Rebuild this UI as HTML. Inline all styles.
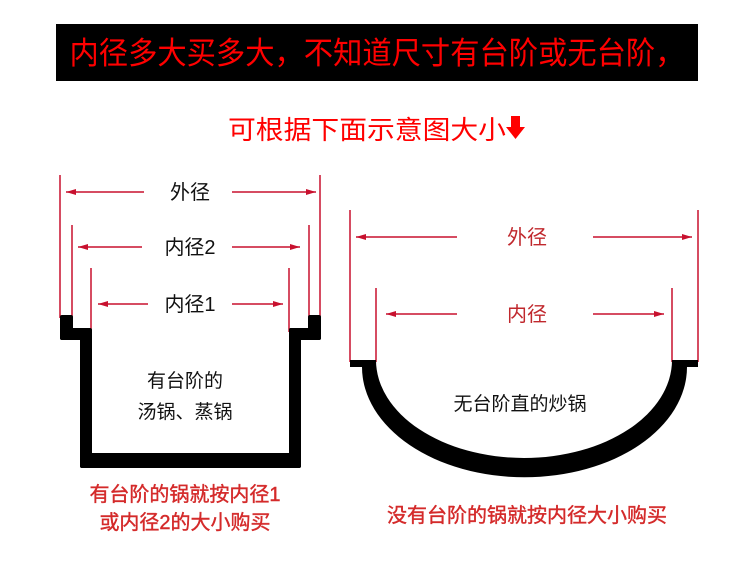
<!DOCTYPE html>
<html><head><meta charset="utf-8"><style>
html,body{margin:0;padding:0;background:#fff;width:750px;height:566px;overflow:hidden}
svg{display:block}
text{font-family:"Liberation Sans","Noto Sans CJK SC",sans-serif}
</style></head><body>
<svg width="750" height="566" viewBox="0 0 750 566">
<defs>
<marker id="a" viewBox="0 0 10 6" refX="10" refY="3" markerWidth="10" markerHeight="6" orient="auto" markerUnits="userSpaceOnUse"><path d="M0,0 L10,3 L0,6 z" fill="#c8102e"/></marker>
</defs>
<rect x="56" y="24" width="642" height="57" fill="#000"/>
<text x="377" y="64" font-size="31" fill="#f00" text-anchor="middle" textLength="615" lengthAdjust="spacingAndGlyphs">内径多大买多大，不知道尺寸有台阶或无台阶，</text>
<text x="228" y="139" font-size="26" fill="#f00" textLength="278" lengthAdjust="spacingAndGlyphs">可根据下面示意图大小</text>
<path d="M511,116 h9 v11 h5 l-9.5,12 l-9.5,-12 h5 z" fill="#f00"/>

<g stroke="#c8102e" stroke-width="1.5">
<line x1="60" y1="175" x2="60" y2="318"/><line x1="72" y1="225" x2="72" y2="318"/><line x1="91" y1="268" x2="91" y2="332"/>
<line x1="320" y1="175" x2="320" y2="318"/><line x1="309" y1="225" x2="309" y2="318"/><line x1="289" y1="268" x2="289" y2="332"/>
<line x1="144" y1="192" x2="66" y2="192" marker-end="url(#a)"/><line x1="232" y1="192" x2="316" y2="192" marker-end="url(#a)"/>
<line x1="142" y1="247" x2="78" y2="247" marker-end="url(#a)"/><line x1="232" y1="247" x2="300" y2="247" marker-end="url(#a)"/>
<line x1="148" y1="304" x2="98" y2="304" marker-end="url(#a)"/><line x1="232" y1="304" x2="283" y2="304" marker-end="url(#a)"/>
<line x1="350" y1="210" x2="350" y2="362"/><line x1="376" y1="288" x2="376" y2="362"/>
<line x1="698" y1="210" x2="698" y2="362"/><line x1="672" y1="288" x2="672" y2="362"/>
<line x1="457" y1="237" x2="356" y2="237" marker-end="url(#a)"/><line x1="593" y1="237" x2="692" y2="237" marker-end="url(#a)"/>
<line x1="457" y1="314" x2="386" y2="314" marker-end="url(#a)"/><line x1="593" y1="314" x2="664" y2="314" marker-end="url(#a)"/>
</g>
<text x="190" y="199" font-size="20" text-anchor="middle" fill="#111">外径</text>
<text x="190" y="254" font-size="20" text-anchor="middle" fill="#111">内径2</text>
<text x="190" y="311" font-size="20" text-anchor="middle" fill="#111">内径1</text>
<text x="527" y="244" font-size="20" text-anchor="middle" fill="#c0282d">外径</text>
<text x="527" y="321" font-size="20" text-anchor="middle" fill="#c0282d">内径</text>

<g fill="#000">
<rect x="60" y="315" width="13" height="25" rx="2"/>
<rect x="60" y="328" width="31" height="12" rx="2"/>
<rect x="80" y="328" width="12" height="140" rx="2"/>
<rect x="80" y="453" width="221" height="15" rx="2"/>
<rect x="289" y="328" width="12" height="140" rx="2"/>
<rect x="289" y="328" width="32" height="12" rx="2"/>
<rect x="308" y="315" width="13" height="25" rx="2"/>
</g>
<text x="185" y="387" font-size="19" text-anchor="middle" fill="#111">有台阶的</text>
<text x="185" y="418" font-size="19" text-anchor="middle" fill="#111">汤锅、蒸锅</text>

<path d="M350,360 H376 A148,98 0 0 0 672,360 H698 V367 H687 A162,110 0 0 1 362,367 H350 Z" fill="#000"/>
<text x="520" y="410" font-size="19" text-anchor="middle" fill="#111">无台阶直的炒锅</text>

<g font-size="20" text-anchor="middle" fill="#d42a2a" stroke="#d42a2a" stroke-width="0.4">
<text x="185" y="501">有台阶的锅就按内径1</text>
<text x="185" y="529">或内径2的大小购买</text>
<text x="527" y="522">没有台阶的锅就按内径大小购买</text>
</g>
</svg>
</body></html>
